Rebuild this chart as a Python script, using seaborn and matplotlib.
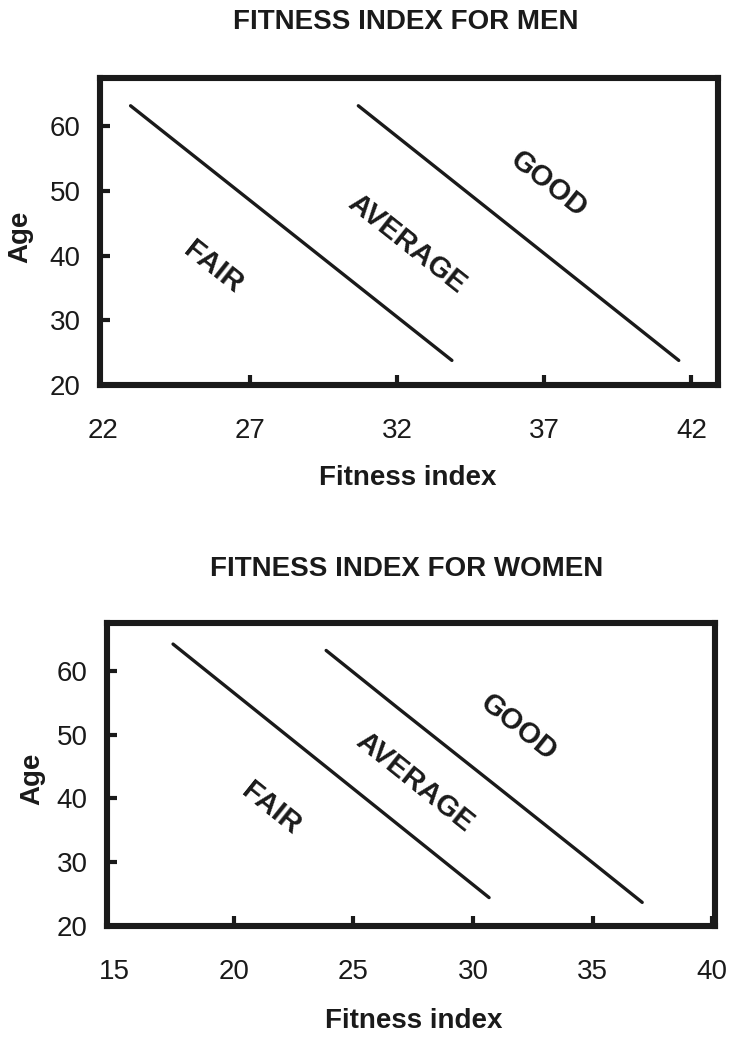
import numpy as np
import pandas as pd
import matplotlib
matplotlib.use("Agg")
import matplotlib.pyplot as plt
import seaborn as sns

# ---------------------------------------------------------
# data (fitness index vs age)
# ---------------------------------------------------------
men_fair_x = [22.94, 33.86]
men_fair_age = [63.2, 23.8]
men_good_x = [30.68, 41.57]
men_good_age = [63.2, 23.8]
men_ticks = [22, 27, 32, 37, 42]
men_labels = ["FAIR", "AVERAGE", "GOOD"]
men_label_x = [25.75, 32.32, 37.15]
men_label_age = [38.2, 41.8, 51.1]

women_fair_x = [17.46, 30.67]
women_fair_age = [64.2, 24.45]
women_good_x = [23.86, 26.85, 31.02, 34.64, 37.07]
women_good_age = [63.2, 54.2, 41.8, 31.0, 23.7]
women_ticks = [15, 20, 25, 30, 35, 40]
women_labels = ["FAIR", "AVERAGE", "GOOD"]
women_label_x = [21.57, 27.54, 31.92]
women_label_age = [38.4, 42.6, 51.1]

age_ticks = [20, 30, 40, 50, 60]

sns.set_theme(style="white")
plt.rcParams['font.family'] = ['Liberation Sans', 'DejaVu Sans']


def draw_panel(ax, fair_x, fair_age, good_x, good_age, ticks, xlim,
               labels, lab_x, lab_age, xlab_pos, ylab_pos):
    df_fair = pd.DataFrame({'Fitness': fair_x, 'Age': fair_age})
    df_good = pd.DataFrame({'Fitness': good_x, 'Age': good_age})
    for d in (df_fair, df_good):
        sns.lineplot(data=d, x='Fitness', y='Age', ax=ax, color='#1a1a1a',
                     linewidth=2.4, estimator=None, sort=False)

    # text follows the slope of the boundary lines
    ang = np.degrees(np.arctan2(fair_age[-1] - fair_age[0], fair_x[-1] - fair_x[0]))
    for t, x, y in zip(labels, lab_x, lab_age):
        ax.text(x, y, t, fontsize=21, fontweight='bold', rotation=ang,
                rotation_mode='anchor', transform_rotates_text=True,
                ha='center', va='center', color='#1a1a1a')

    ax.set_xlim(*xlim)
    ax.set_ylim(20, 67.5)
    ax.set_xticks(ticks)
    ax.set_yticks(age_ticks)
    for s in ax.spines.values():
        s.set_visible(True)
        s.set_linewidth(4.4)
        s.set_color('#1a1a1a')
    ax.tick_params(axis='both', direction='in', length=7, width=3,
                   color='#1a1a1a', labelsize=20, labelcolor='#1a1a1a',
                   bottom=True, left=True)
    ax.tick_params(axis='x', pad=24)
    ax.tick_params(axis='y', pad=14)
    # first x tick sits on the left spine, no mark shown there
    ax.xaxis.get_major_ticks()[0].tick1line.set_visible(False)
    ax.set_xlabel("Fitness index", fontsize=20, fontweight='bold', color='#1a1a1a')
    ax.set_ylabel("Age", fontsize=20, fontweight='bold', color='#1a1a1a')
    ax.xaxis.set_label_coords(*xlab_pos)
    ax.yaxis.set_label_coords(*ylab_pos)


fig = plt.figure(figsize=(7.33, 10.41), dpi=100)
ax1 = fig.add_axes([0.1364, 0.6302, 0.843, 0.2949])
ax2 = fig.add_axes([0.146, 0.1105, 0.829, 0.291])

draw_panel(ax1, men_fair_x, men_fair_age, men_good_x, men_good_age,
           men_ticks, (21.9, 42.9), men_labels, men_label_x, men_label_age,
           (0.498, -0.26), (-0.108, 0.482))
draw_panel(ax2, women_fair_x, women_fair_age, women_good_x, women_good_age,
           women_ticks, (14.7, 40.1), women_labels, women_label_x, women_label_age,
           (0.505, -0.27), (-0.102, 0.485))

fig.text(0.554, 0.979, "FITNESS INDEX FOR MEN", ha='center', va='center',
         fontsize=20, fontweight='bold', color='#1a1a1a')
fig.text(0.555, 0.4534, "FITNESS INDEX FOR WOMEN", ha='center', va='center',
         fontsize=20, fontweight='bold', color='#1a1a1a')

fig.savefig("out.png", dpi=100)
plt.close(fig)
